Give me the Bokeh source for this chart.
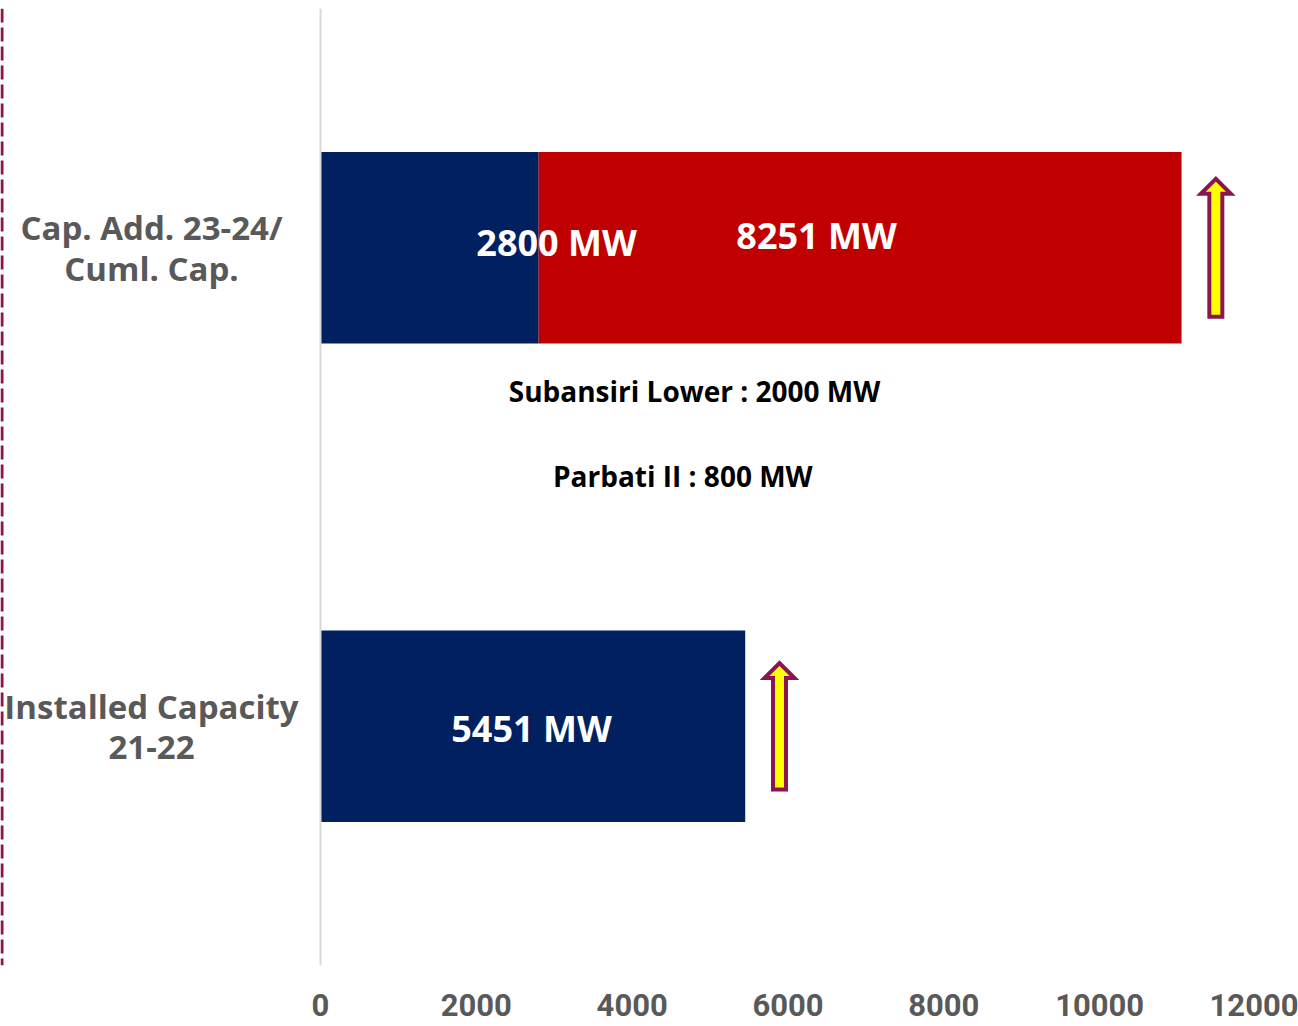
from bokeh.plotting import figure
from bokeh.models import Span, FixedTicker
from bokeh.core.properties import value
from bokeh.embed import file_html
from bokeh.resources import INLINE

# ---------------- data ----------------
categories = ["Installed Capacity\n21-22", "Cap. Add. 23-24/\nCuml. Cap."]
base_mw = [5451, 2800]          # navy segment
added_mw = [0, 8251]            # red segment
base_labels = ["5451 MW", "2800 MW"]
added_labels = ["", "8251 MW"]
notes = ["Subansiri Lower : 2000 MW", "Parbati II : 800 MW"]
x_ticks = [0, 2000, 4000, 6000, 8000, 10000, 12000]

# ---------------- layout / style ----------------
W, H = 1298, 1026
LEFT_PX, FRAME_W, TOP_PX, FRAME_H = 320, 935, 8, 957
X_MAX = 12000
upx = X_MAX / FRAME_W                       # data units per pixel
ypx = 2 / FRAME_H
x_start = -LEFT_PX * upx
x_end = X_MAX + (W - LEFT_PX - FRAME_W) * upx

NAVY, RED, MAROON, YELLOW, GRAY = "#002060", "#C00000", "#8A1550", "#FFFF00", "#595959"
BAR_H = 0.4
cat_label_x = -2169
base_label_x = [2708, 3030]
base_label_dy = [-0.005, 0.011]
added_label_x = [0, 6366]
added_label_dy = [0, 0.026]
note_x = [4800, 4650]
note_y = [1.200, 1.022]
arrow_gap = 440
arrow_half = [0.132, 0.144]

ys = [i + 0.5 for i in range(len(categories))]
totals = [b + a for b, a in zip(base_mw, added_mw)]

p = figure(width=W, height=H, output_backend="svg", toolbar_location=None,
           x_range=(x_start, x_end), y_range=(0, 2),
           min_border_left=0, min_border_right=0, min_border_top=TOP_PX,
           min_border_bottom=H - TOP_PX - FRAME_H)
p.outline_line_color = None
p.grid.visible = False
p.yaxis.visible = False
p.background_fill_color = "white"

# bars
p.hbar(y=ys, left=0, right=base_mw, height=BAR_H, fill_color=NAVY, line_color=None)
p.hbar(y=ys, left=base_mw, right=totals, height=BAR_H, fill_color=RED, line_color=None)

# value axis line at 0 and decorative dashed border
p.add_layout(Span(location=0, dimension="height", line_color="#D9D9D9", line_width=2))
p.add_layout(Span(location=x_start + 1.5 * upx, dimension="height", line_color=MAROON,
                  line_width=3, line_dash="14 5"))

# category labels
p.text(x=[cat_label_x] * len(ys), y=ys, text=categories, text_align="center",
       text_baseline="middle", text_font=value("Open Sans"), text_font_style="bold",
       text_font_size="33px", text_color=GRAY, text_line_height=0.9)

# bar labels
p.text(x=base_label_x, y=[y + d for y, d in zip(ys, base_label_dy)], text=base_labels,
       text_align="center", text_baseline="middle", text_font=value("Open Sans"),
       text_font_style="bold", text_font_size="36px", text_color="white")
p.text(x=added_label_x, y=[y + d for y, d in zip(ys, added_label_dy)], text=added_labels,
       text_align="center", text_baseline="middle", text_font=value("Open Sans"),
       text_font_style="bold", text_font_size="36px", text_color="white")

# notes
p.text(x=note_x, y=note_y, text=notes, text_align="center", text_baseline="middle",
       text_font=value("Open Sans"), text_font_style="bold", text_font_size="28px",
       text_color="black")

# up arrows beside each bar
xs_list, ys_list = [], []
for y, t, hl in zip(ys, totals, arrow_half):
    cx = t + arrow_gap
    sw = 6.5 * upx
    hw = 15 * upx
    hh = 15 * ypx
    top = y + hl
    bot = y - hl
    xs_list.append([cx - sw, cx - sw, cx - hw, cx, cx + hw, cx + sw, cx + sw])
    ys_list.append([bot, top - hh, top - hh, top, top - hh, top - hh, bot])
p.patches(xs_list, ys_list, fill_color=YELLOW, line_color=MAROON, line_width=4,
          line_join="miter")

# x axis
ax = p.xaxis[0]
ax.ticker = FixedTicker(ticks=x_ticks)
ax.axis_line_color = None
ax.major_tick_line_color = None
ax.minor_tick_line_color = None
ax.major_label_standoff = 22
ax.major_label_text_font = "Roboto"
ax.major_label_text_font_style = "bold"
ax.major_label_text_font_size = "31px"
ax.major_label_text_color = GRAY

open("out.html", "w").write(file_html(p, INLINE))
